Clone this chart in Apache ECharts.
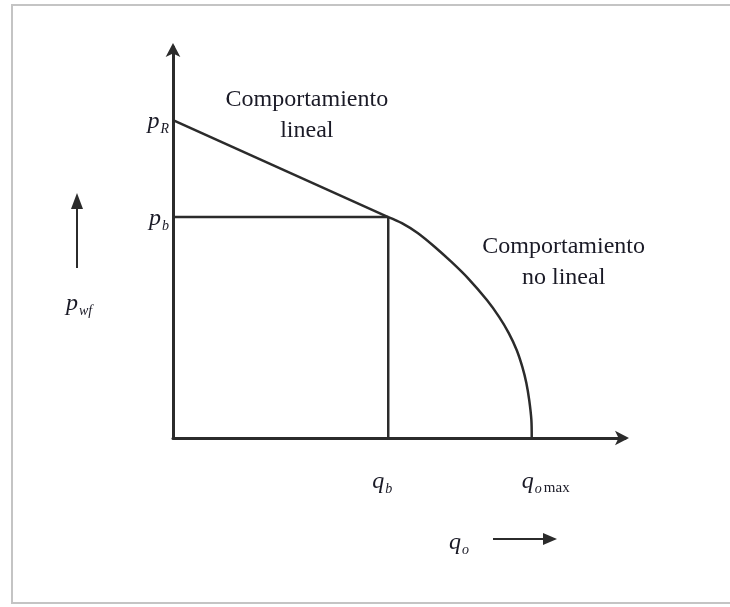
<!DOCTYPE html>
<html>
<head>
<meta charset="utf-8">
<script src="https://cdn.jsdelivr.net/npm/echarts@6/dist/echarts.min.js"></script>
<style>
html,body{margin:0;padding:0;background:#fff;}
#c{width:730px;height:607px;}
</style>
</head>
<body>
<div id="c"></div>
<script>
// ---- data (q normalised so q_omax = 100, p normalised so p_R = 100) ----
var linearQ = [0, 60];
var linearP = [100, 69.5];
var curveQ = [60, 63.8, 68.2, 73.0, 77.7, 82.2, 87.5, 90.9, 93.6, 95.8, 97.4, 98.5, 99.3, 99.9, 100];
var curveP = [69.5, 67.6, 64.5, 60.1, 55.3, 50.3, 43.4, 38.1, 33.0, 27.7, 22.3, 17.3, 11.9, 5.7, 0];
var guideQ = [0, 60, 60];
var guideP = [69.5, 69.5, 0];
var yTickValues = [100, 69.5];
var yTickLabels = [['p', 'R'], ['p', 'b']];
var xTickValues = [60, 100];
var xTickLabels = [['q', 'b'], ['q', 'o', 'max']];
var notes = [
  {q: 37.3, p: 101.6, text: 'Comportamiento\nlineal'},
  {q: 108.9, p: 55.2, text: 'Comportamiento\nno lineal'}
];

function zip(a, b) { return a.map(function (v, i) { return [v, b[i]]; }); }

var chart = echarts.init(document.getElementById('c'));
var ink = '#2b2b2b';
var lineStyle = {color: ink, width: 2.5};
chart.setOption({
  animation: false,
  backgroundColor: '#fff',
  grid: {left: 173, top: 47, right: 105, bottom: 169},
  xAxis: {
    type: 'value', min: 0, max: 126,
    axisLine: {show: true, symbol: ['none', 'arrow'], symbolSize: [11, 14], symbolOffset: [0, 4], lineStyle: {color: ink, width: 3}},
    axisTick: {show: false}, axisLabel: {show: false}, splitLine: {show: false}
  },
  yAxis: {
    type: 'value', min: 0, max: 123,
    axisLine: {show: true, symbol: ['none', 'arrow'], symbolSize: [11, 14], symbolOffset: [0, 4], lineStyle: {color: ink, width: 3}},
    axisTick: {show: false}, axisLabel: {show: false}, splitLine: {show: false}
  },
  series: [
    {type: 'line', data: zip(linearQ, linearP), symbol: 'none', lineStyle: lineStyle},
    {type: 'line', data: zip(curveQ, curveP), symbol: 'none', smooth: 0.3, lineStyle: lineStyle},
    {type: 'line', data: zip(guideQ, guideP), symbol: 'none', lineStyle: lineStyle}
  ]
});

var serif = '"Liberation Serif", "DejaVu Serif", serif';
var txt = '#1a1a26';
var rich = {
  m: {fontFamily: serif, fontStyle: 'italic', fontSize: 24, lineHeight: 28, fill: txt},
  s: {fontFamily: serif, fontStyle: 'italic', fontSize: 14, lineHeight: 28, verticalAlign: 'bottom', fill: txt, padding: [0, 0, 0, 1]},
  r: {fontFamily: serif, fontSize: 15, lineHeight: 28, verticalAlign: 'bottom', fill: txt, padding: [0, 0, 0, 2]}
};
var g = [];
// frame
g.push({type: 'polyline', shape: {points: [[730, 5], [12, 5], [12, 603], [730, 603]]}, style: {stroke: '#c4c4c4', lineWidth: 2, fill: null}});
yTickValues.forEach(function (v, i) {
  var pt = chart.convertToPixel({gridIndex: 0}, [0, v]);
  g.push({type: 'text', x: pt[0] - 4, y: pt[1] + 2, style: {text: '{m|' + yTickLabels[i][0] + '}{s|' + yTickLabels[i][1] + '}', rich: rich, align: 'right', verticalAlign: 'middle'}});
});
xTickValues.forEach(function (v, i) {
  var pt = chart.convertToPixel({gridIndex: 0}, [v, 0]);
  var lab = xTickLabels[i];
  var t = '{m|' + lab[0] + '}{s|' + lab[1] + '}' + (lab[2] ? '{r|' + lab[2] + '}' : '');
  g.push({type: 'text', x: pt[0] - 6 + (i === 1 ? 20 : 0), y: pt[1] + 44, style: {text: t, rich: rich, align: 'center', verticalAlign: 'middle'}});
});
notes.forEach(function (n) {
  var pt = chart.convertToPixel({gridIndex: 0}, [n.q, n.p]);
  g.push({type: 'text', x: pt[0], y: pt[1], style: {text: n.text, fontFamily: serif, fontSize: 24, lineHeight: 31, fill: txt, align: 'center', verticalAlign: 'middle'}});
});
// axis names with arrows
g.push({type: 'text', x: 79, y: 304, style: {text: '{m|p}{s|wf}', rich: rich, align: 'center', verticalAlign: 'middle'}});
g.push({type: 'line', shape: {x1: 77, y1: 268, x2: 77, y2: 205}, style: {stroke: ink, lineWidth: 2}});
g.push({type: 'polygon', shape: {points: [[77, 193], [71, 209], [83, 209]]}, style: {fill: ink}});
g.push({type: 'text', x: 459, y: 543, style: {text: '{m|q}{s|o}', rich: rich, align: 'center', verticalAlign: 'middle'}});
g.push({type: 'line', shape: {x1: 493, y1: 539, x2: 545, y2: 539}, style: {stroke: ink, lineWidth: 2}});
g.push({type: 'polygon', shape: {points: [[557, 539], [543, 533], [543, 545]]}, style: {fill: ink}});
chart.setOption({graphic: g});
</script>
</body>
</html>
